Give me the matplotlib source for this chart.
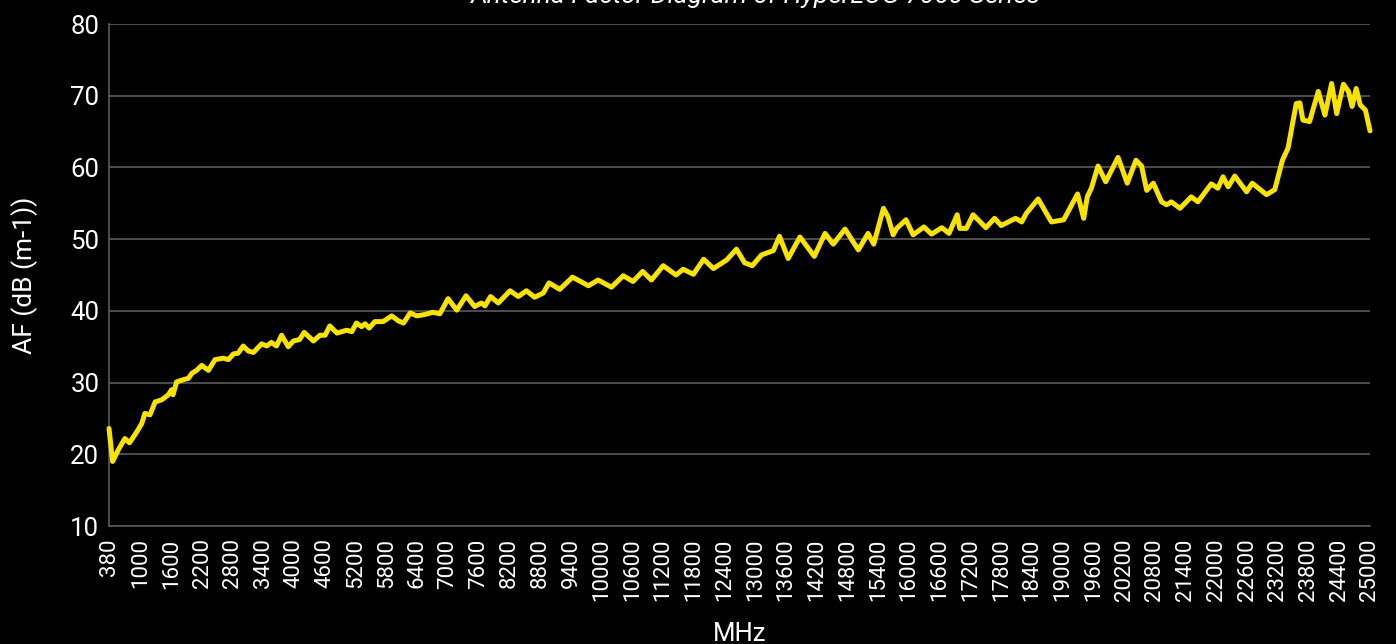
import matplotlib
matplotlib.use("Agg")
import matplotlib.pyplot as plt

# Frequentie (MHz) en antennefactor (dB(m-1))
freq_mhz = [
    380, 450, 560, 690, 780, 920, 1020, 1080, 1180, 1280, 1410, 1540, 1600, 1630,
    1700, 1830, 1930, 2000, 2090, 2190, 2320, 2450, 2610, 2710, 2810, 2900, 3000,
    3100, 3200, 3360, 3460, 3550, 3650, 3750, 3880, 3980, 4100, 4190, 4370, 4500,
    4600, 4690, 4830, 5020, 5120, 5210, 5310, 5380, 5460, 5570, 5730, 5900, 6030,
    6130, 6260, 6390, 6550, 6700, 6840, 7000, 7170, 7350, 7520, 7650, 7720, 7830,
    7980, 8210, 8370, 8530, 8690, 8860, 8970, 9180, 9430, 9740, 9930, 10190, 10420,
    10610, 10800, 10970, 11200, 11450, 11590, 11790, 11990, 12180, 12440, 12630,
    12790, 12940, 13120, 13350, 13470, 13640, 13870, 14150, 14360, 14520, 14750,
    15010, 15200, 15310, 15500, 15590, 15690, 15760, 15940, 16080, 16290, 16440,
    16640, 16780, 16940, 16990, 17120, 17250, 17500, 17670, 17800, 18080, 18200,
    18290, 18520, 18780, 19020, 19290, 19410, 19480, 19560, 19690, 19840, 20080,
    20260, 20430, 20540, 20640, 20770, 20930, 21030, 21120, 21290, 21510, 21640,
    21900, 22030, 22130, 22230, 22360, 22590, 22700, 22980, 23140, 23290, 23400,
    23560, 23630, 23690, 23820, 23990, 24120, 24250, 24350, 24480, 24580, 24650,
    24730, 24810, 24910, 25000,
]
af_db = [
    23.6, 19.0, 20.6, 22.2, 21.6, 23.1, 24.3, 25.7, 25.5, 27.3, 27.6, 28.3, 29.0, 28.3,
    30.1, 30.4, 30.6, 31.3, 31.7, 32.4, 31.7, 33.2, 33.4, 33.2, 34.0, 34.1, 35.1,
    34.4, 34.2, 35.4, 35.1, 35.6, 35.1, 36.6, 35.0, 35.8, 36.0, 37.0, 35.8, 36.6,
    36.6, 37.9, 36.9, 37.3, 37.1, 38.3, 37.8, 38.2, 37.6, 38.5, 38.5, 39.3, 38.6,
    38.3, 39.7, 39.3, 39.5, 39.8, 39.6, 41.7, 40.1, 42.1, 40.6, 41.1, 40.7, 42.0,
    41.1, 42.8, 42.0, 42.8, 41.9, 42.5, 43.9, 43.0, 44.7, 43.5, 44.3, 43.3, 44.9,
    44.1, 45.5, 44.3, 46.3, 45.0, 45.8, 45.1, 47.2, 45.9, 47.1, 48.6,
    46.7, 46.3, 47.8, 48.4, 50.4, 47.3, 50.3, 47.6, 50.8, 49.3, 51.4,
    48.5, 50.8, 49.3, 54.3, 53.1, 50.6, 51.5, 52.7, 50.6, 51.7, 50.7,
    51.6, 50.8, 53.4, 51.5, 51.5, 53.4, 51.6, 52.9, 51.9, 52.9, 52.4,
    53.6, 55.6, 52.4, 52.7, 56.3, 52.9, 55.9, 57.1, 60.2, 58.0, 61.4,
    57.8, 61.0, 60.2, 56.8, 57.8, 55.2, 54.8, 55.2, 54.3, 55.9, 55.2,
    57.7, 57.1, 58.7, 57.3, 58.8, 56.6, 57.8, 56.2, 56.9, 61.0, 62.7,
    68.9, 69.0, 66.6, 66.4, 70.6, 67.3, 71.7, 67.5, 71.6, 70.6, 68.5,
    71.0, 68.7, 68.0, 65.1,
]

x_ticks = [380] + list(range(1000, 25001, 600))
y_ticks = [10, 20, 30, 40, 50, 60, 70, 80]

title_text = "Antenna Factor Diagram of HyperLOG 7060 Series"
x_label = "MHz"
y_label = "AF (dB (m-1))"

plt.rcParams['font.family'] = ['Roboto', 'DejaVu Sans']

W, H = 1396, 644
fig = plt.figure(figsize=(W / 100, H / 100), dpi=100, facecolor='black')
ax = fig.add_axes([109 / W, 1 - 526 / H, (1370 - 109) / W, (526 - 24) / H])
ax.set_facecolor('black')

grid_col = '#595959'
ax.plot(freq_mhz, af_db, color='#F7E200', linewidth=3.6,
        solid_joinstyle='round', solid_capstyle='round', clip_on=False, zorder=3)

ax.set_xlim(380, 25000)
ax.set_ylim(10, 80)
ax.set_xticks(x_ticks)
ax.set_xticklabels([str(t) for t in x_ticks], rotation=90)
ax.set_yticks(y_ticks)

ax.grid(axis='y', color=grid_col, linewidth=1.2)
ax.set_axisbelow(True)
for side in ['top', 'right']:
    ax.spines[side].set_visible(False)
for side in ['left', 'bottom']:
    ax.spines[side].set_color(grid_col)
    ax.spines[side].set_linewidth(1.2)

ax.tick_params(axis='both', length=0, labelcolor='white')
ax.tick_params(axis='x', pad=9, labelsize=16)
ax.tick_params(axis='y', pad=7, labelsize=18.5)

# Titel valt grotendeels buiten het beeld, net als in het origineel
fig.text(755 / W, 1 - 3 / H, title_text, ha='center', va='baseline',
         fontsize=19, style='italic', color='white')
fig.text(740 / W, 3 / H, x_label, ha='center', va='baseline',
         fontsize=18.5, color='white')
fig.text(25 / W, 1 - 275 / H, y_label, ha='center', va='center',
         rotation=90, fontsize=19, color='white')

fig.savefig('out.png', dpi=100, facecolor='black')
